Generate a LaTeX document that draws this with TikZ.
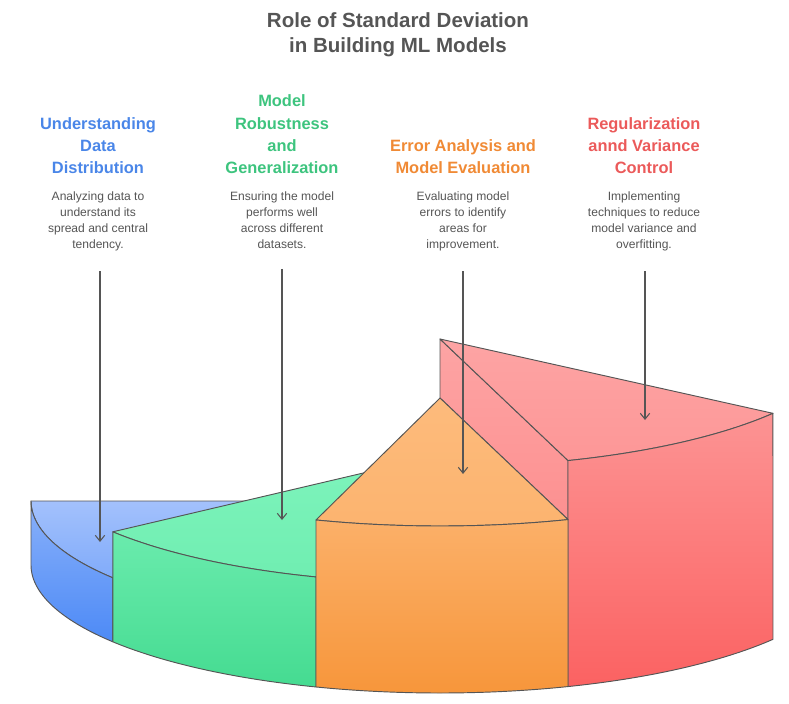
\documentclass[tikz,border=0pt]{standalone}
\usepackage{fontspec}
\setmainfont{Liberation Sans}
\usetikzlibrary{positioning, arrows.meta, calc}

\definecolor{bluetxt}{HTML}{4A86E8}
\definecolor{greentxt}{HTML}{3DC47E}
\definecolor{orangetxt}{HTML}{F08A35}
\definecolor{redtxt}{HTML}{EB5A5A}
\definecolor{edgegray}{HTML}{555555}
\definecolor{bodygray}{HTML}{555555}
\definecolor{bluehi}{HTML}{A3C1FC}
\definecolor{bluelo}{HTML}{4D8AF6}
\definecolor{greenhi}{HTML}{7EF4BC}
\definecolor{greenlo}{HTML}{45DB91}
\definecolor{orangehi}{HTML}{FDBB7C}
\definecolor{orangelo}{HTML}{F7963B}
\definecolor{redhi}{HTML}{FDA4A4}
\definecolor{redlo}{HTML}{FB6262}

\tikzset{
	heading/.style={align=center, font=\fontsize{14}{19}\selectfont\bfseries, anchor=south},
	descr/.style={align=center, font=\fontsize{10.3}{13.5}\selectfont, text=bodygray, anchor=north},
	pointer/.style={draw=edgegray, line width=0.9pt, -{Straight Barb[length=5pt,width=8pt]}, shorten <=14pt},
	slab/.style={draw=edgegray, line width=0.8pt, line join=round, samples=40}
}

\begin{document}
\begin{tikzpicture}[x=0.03cm, y=-0.03cm]
		\useasboundingbox (0,0) rectangle (789,703);
		\node[font=\fontsize{17.5}{21}\selectfont\bfseries, text=edgegray, align=center](title) at (398,35) {Role of Standard Deviation\\in Building ML Models};
		
		% headings and descriptions
		\node[heading, text=bluetxt] (headData) at (98,178) {Understanding\\Data\\Distribution};
		\node[heading, text=greentxt] (headRobust) at (282,178) {Model\\Robustness\\and\\Generalization};
		\node[heading, text=orangetxt] (headError) at (463,178) {Error Analysis and\\Model Evaluation};
		\node[heading, text=redtxt] (headReg) at (644,178) {Regularization\\annd Variance\\Control};
		\node[descr] (descData) at (98,188) {Analyzing data to\\understand its\\spread and central\\tendency.};
		\node[descr] (descRobust) at (282,188) {Ensuring the model\\performs well\\across different\\datasets.};
		\node[descr] (descError) at (463,188) {Evaluating model\\errors to identify\\areas for\\improvement.};
		\node[descr] (descReg) at (644,188) {Implementing\\techniques to reduce\\model variance and\\overfitting.};
		
		% blue slice
		\draw[slab, top color=bluehi, bottom color=bluehi!60!bluelo] (440,501) -- plot[domain=180:143.13] ({440+409*cos(\x)},{501+128*sin(\x)}) -- cycle;
		\draw[slab, top color=bluehi!70!bluelo, bottom color=bluelo] plot[domain=180:143.13] ({440+409*cos(\x)},{501+128*sin(\x)}) -- plot[domain=143.13:180] ({440+409*cos(\x)},{565+128*sin(\x)}) -- cycle;
		% green slice
		\draw[slab, top color=greenhi, bottom color=greenhi!75!greenlo] (440,455) -- plot[domain=143.13:107.65] ({440+409*cos(\x)},{455+128*sin(\x)}) -- cycle;
		\draw[slab, top color=greenhi!65!greenlo, bottom color=greenlo] plot[domain=143.13:107.65] ({440+409*cos(\x)},{455+128*sin(\x)}) -- plot[domain=107.65:143.13] ({440+409*cos(\x)},{565+128*sin(\x)}) -- cycle;
		% red slice
		\coordinate (redCorner) at ({440+409*cos(71.76)},{339+128*sin(71.76)});
		\coordinate (orangeCorner) at ({440+409*cos(71.76)},{398+128*sin(71.76)});
		\draw[slab, top color=redhi, bottom color=redhi!70!redlo] (440,339) -- (redCorner) -- (orangeCorner) -- (440,398) -- cycle;
		\draw[slab, top color=redhi, bottom color=redhi!80!redlo] (440,339) -- plot[domain=71.76:35.5] ({440+409*cos(\x)},{339+128*sin(\x)}) -- cycle;
		\draw[slab, top color=redhi!75!redlo, bottom color=redlo] plot[domain=71.76:35.5] ({440+409*cos(\x)},{339+128*sin(\x)}) -- plot[domain=35.5:71.76] ({440+409*cos(\x)},{565+128*sin(\x)}) -- cycle;
		% orange slice
		\draw[slab, top color=orangehi, bottom color=orangehi!80!orangelo] (440,398) -- plot[domain=107.65:71.76] ({440+409*cos(\x)},{398+128*sin(\x)}) -- cycle;
		\draw[slab, top color=orangehi!70!orangelo, bottom color=orangelo] plot[domain=107.65:71.76] ({440+409*cos(\x)},{398+128*sin(\x)}) -- plot[domain=71.76:107.65] ({440+409*cos(\x)},{565+128*sin(\x)}) -- cycle;
		
		% pointers
		\coordinate (tipData) at (100,542);
		\coordinate (tipRobust) at (282,520);
		\coordinate (tipError) at (463,474);
		\coordinate (tipReg) at (645,420);
		\path[pointer] (descData.south -| tipData) -- (tipData);
		\path[pointer] (descRobust.south) -- (tipRobust);
		\path[pointer] (descError.south) -- (tipError);
		\path[pointer] (descReg.south -| tipReg) -- (tipReg);
	\end{tikzpicture}
\end{document}
